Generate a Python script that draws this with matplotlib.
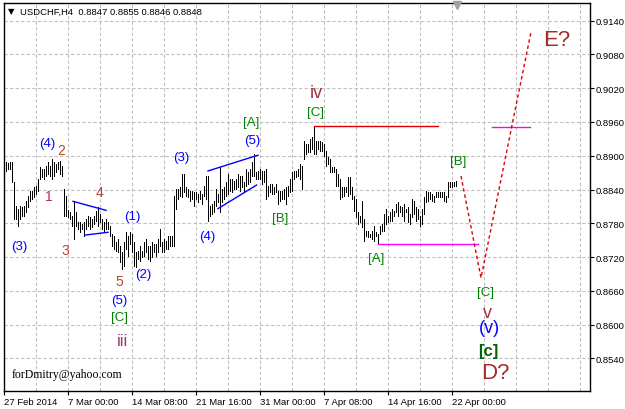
import numpy as np
import matplotlib.pyplot as plt

# USDCHF H4 bars (high / low), one per bar
highs = [
    0.8889, 0.8887, 0.8889, 0.8889, 0.8853, 0.8810, 0.8805, 0.8810, 0.8809, 0.8810,
    0.8819, 0.8828, 0.8837, 0.8837, 0.8844, 0.8846, 0.8858, 0.8880, 0.8876, 0.8876,
    0.8881, 0.8889, 0.8881, 0.8894, 0.8889, 0.8885, 0.8889, 0.8890, 0.8881, 0.8841,
    0.8828, 0.8803, 0.8800, 0.8793, 0.8819, 0.8800, 0.8782, 0.8782, 0.8778, 0.8782,
    0.8787, 0.8793, 0.8791, 0.8787, 0.8793, 0.8802, 0.8809, 0.8796, 0.8787, 0.8782,
    0.8787, 0.8782, 0.8775, 0.8761, 0.8757, 0.8746, 0.8752, 0.8739, 0.8729, 0.8746,
    0.8764, 0.8757, 0.8764, 0.8761, 0.8746, 0.8729, 0.8730, 0.8739, 0.8730, 0.8746,
    0.8752, 0.8739, 0.8739, 0.8746, 0.8743, 0.8743, 0.8752, 0.8770, 0.8746, 0.8752,
    0.8748, 0.8757, 0.8757, 0.8757, 0.8828, 0.8841, 0.8841, 0.8844, 0.8867, 0.8867,
    0.8844, 0.8841, 0.8837, 0.8837, 0.8835, 0.8835, 0.8832, 0.8837, 0.8832, 0.8846,
    0.8864, 0.8864, 0.8810, 0.8814, 0.8819, 0.8841, 0.8832, 0.8880, 0.8841, 0.8844,
    0.8853, 0.8867, 0.8858, 0.8858, 0.8855, 0.8858, 0.8867, 0.8864, 0.8864, 0.8853,
    0.8876, 0.8871, 0.8876, 0.8889, 0.8903, 0.8871, 0.8873, 0.8876, 0.8873, 0.8873,
    0.8876, 0.8846, 0.8850, 0.8850, 0.8844, 0.8850, 0.8837, 0.8837, 0.8837, 0.8841,
    0.8844, 0.8846, 0.8858, 0.8871, 0.8873, 0.8873, 0.8876, 0.8885, 0.8881, 0.8926,
    0.8921, 0.8921, 0.8929, 0.8933, 0.8953, 0.8926, 0.8926, 0.8926, 0.8924, 0.8921,
    0.8908, 0.8898, 0.8894, 0.8880, 0.8880, 0.8876, 0.8867, 0.8858, 0.8844, 0.8844,
    0.8844, 0.8862, 0.8862, 0.8844, 0.8828, 0.8823, 0.8800, 0.8793, 0.8819, 0.8787,
    0.8766, 0.8766, 0.8761, 0.8766, 0.8775, 0.8764, 0.8761, 0.8775, 0.8778, 0.8796,
    0.8805, 0.8793, 0.8800, 0.8805, 0.8802, 0.8814, 0.8818, 0.8810, 0.8809, 0.8814,
    0.8805, 0.8809, 0.8796, 0.8823, 0.8819, 0.8809, 0.8805, 0.8793, 0.8805, 0.8826,
    0.8837, 0.8835, 0.8835, 0.8832, 0.8828, 0.8835, 0.8835, 0.8835, 0.8835, 0.8835,
    0.8828, 0.8853, 0.8853, 0.8853, 0.8853, 0.8855,
]
lows = [
    0.8873, 0.8876, 0.8876, 0.8853, 0.8787, 0.8787, 0.8775, 0.8787, 0.8793, 0.8793,
    0.8800, 0.8809, 0.8819, 0.8823, 0.8826, 0.8832, 0.8837, 0.8858, 0.8862, 0.8858,
    0.8864, 0.8867, 0.8864, 0.8858, 0.8864, 0.8871, 0.8876, 0.8867, 0.8864, 0.8793,
    0.8793, 0.8791, 0.8787, 0.8775, 0.8752, 0.8775, 0.8770, 0.8764, 0.8770, 0.8757,
    0.8770, 0.8775, 0.8770, 0.8773, 0.8778, 0.8784, 0.8775, 0.8782, 0.8770, 0.8766,
    0.8770, 0.8770, 0.8757, 0.8739, 0.8734, 0.8730, 0.8729, 0.8711, 0.8698, 0.8704,
    0.8734, 0.8722, 0.8743, 0.8729, 0.8704, 0.8702, 0.8716, 0.8713, 0.8720, 0.8722,
    0.8729, 0.8716, 0.8713, 0.8720, 0.8729, 0.8722, 0.8729, 0.8739, 0.8729, 0.8729,
    0.8734, 0.8734, 0.8739, 0.8739, 0.8739, 0.8805, 0.8823, 0.8828, 0.8826, 0.8835,
    0.8828, 0.8826, 0.8819, 0.8823, 0.8810, 0.8823, 0.8818, 0.8823, 0.8814, 0.8828,
    0.8823, 0.8784, 0.8793, 0.8796, 0.8800, 0.8810, 0.8818, 0.8800, 0.8818, 0.8823,
    0.8828, 0.8832, 0.8837, 0.8835, 0.8841, 0.8841, 0.8844, 0.8837, 0.8844, 0.8837,
    0.8846, 0.8850, 0.8853, 0.8864, 0.8864, 0.8858, 0.8858, 0.8858, 0.8850, 0.8853,
    0.8823, 0.8828, 0.8835, 0.8832, 0.8832, 0.8835, 0.8814, 0.8819, 0.8823, 0.8823,
    0.8814, 0.8828, 0.8835, 0.8837, 0.8858, 0.8862, 0.8864, 0.8858, 0.8841, 0.8894,
    0.8903, 0.8906, 0.8906, 0.8912, 0.8903, 0.8903, 0.8912, 0.8908, 0.8908, 0.8899,
    0.8881, 0.8885, 0.8871, 0.8871, 0.8871, 0.8846, 0.8846, 0.8823, 0.8826, 0.8828,
    0.8835, 0.8828, 0.8832, 0.8823, 0.8802, 0.8791, 0.8778, 0.8782, 0.8773, 0.8748,
    0.8757, 0.8755, 0.8755, 0.8752, 0.8748, 0.8757, 0.8743, 0.8761, 0.8766, 0.8766,
    0.8778, 0.8782, 0.8784, 0.8784, 0.8793, 0.8800, 0.8793, 0.8800, 0.8793, 0.8784,
    0.8800, 0.8782, 0.8778, 0.8791, 0.8796, 0.8784, 0.8787, 0.8775, 0.8778, 0.8796,
    0.8818, 0.8819, 0.8823, 0.8819, 0.8818, 0.8826, 0.8826, 0.8826, 0.8826, 0.8819,
    0.8818, 0.8826, 0.8844, 0.8844, 0.8846, 0.8846,
]

# axis labels
price_ticks = [0.8540, 0.8600, 0.8660, 0.8720, 0.8780, 0.8840, 0.8900, 0.8960, 0.9020, 0.9080, 0.9140]
date_labels = ["27 Feb 2014", "7 Mar 00:00", "14 Mar 08:00", "21 Mar 16:00",
               "31 Mar 00:00", "7 Apr 08:00", "14 Apr 16:00", "22 Apr 00:00"]
date_bars = [-1, 31, 63, 95, 127, 159, 191, 223]

# drawn lines (bar index, price)
triangle_top = ([33.5, 50], [0.8819, 0.8803])
triangle_bot = ([39.5, 51], [0.8759, 0.8764])
wedge_top = ([101, 126], [0.8873, 0.8901])
wedge_bot = ([106, 125.3], [0.8806, 0.8848])
c_high = ([154, 216], [0.8953, 0.8953])
a_low = ([186, 236], [0.8743, 0.8743])
target = ([243, 262], [0.8952, 0.8952])
forecast_x = [227.5, 237.5, 262.5]
forecast_y = [0.8864, 0.8683, 0.9120]

# wave labels
wave_text = ["(3)", "(4)", "2", "1", "3", "4", "5", "(1)", "(2)", "(5)", "[C]", "iii",
             "(3)", "(4)", "(5)", "[A]", "[B]", "iv", "[C]", "[A]", "[B]", "[C]",
             "v", "(v)", "[c]", "D?", "E?"]
wave_bar = [6.5, 20.5, 27.5, 21.5, 29.5, 46.5, 56.5, 63, 68.5, 56.5, 57, 58,
            87.5, 100.5, 123, 122.5, 137, 155, 155, 185, 226, 239.5,
            240.5, 241.5, 241, 244.5, 275.5]
wave_price = [0.8739, 0.8922, 0.8910, 0.8828, 0.8732, 0.8835, 0.8677, 0.8793, 0.8690, 0.8643, 0.8613, 0.8572,
              0.8897, 0.8757, 0.8928, 0.8960, 0.8789, 0.9013, 0.8978, 0.8718, 0.8890, 0.8658,
              0.8622, 0.8594, 0.8553, 0.8515, 0.9107]


def label_style(t):
    if t.startswith("("):
        if t == "(v)":
            return dict(color="#0000ff", fontsize=13)
        return dict(color="#0000ff", fontsize=9.5)
    if t == "[c]":
        return dict(color="#006400", fontsize=12, fontweight="bold")
    if t.startswith("["):
        return dict(color="#008000", fontsize=9.5)
    if t in ("D?", "E?"):
        return dict(color="#a52a2a", fontsize=16)
    if t == "1":
        return dict(color="#c02860", fontsize=10)
    if t in ("2", "3", "4", "5"):
        return dict(color="#b5452b", fontsize=10)
    if t == "iii":
        return dict(color="#9b3b6b", fontsize=12)
    return dict(color="#a0303c", fontsize=13)


plt.rcParams['font.family'] = ['Liberation Sans', 'DejaVu Sans']

fig = plt.figure(figsize=(6.25, 4.1), dpi=100)
ax = fig.add_axes([4 / 625, 18 / 410, 586 / 625, 388 / 410])
ax.set_xlim(-1, 292)
ax.set_ylim(0.84819, 0.91715)

# grid
for p in price_ticks:
    ax.axhline(p, color="#c0c0c0", lw=0.8, ls=(0, (3, 2)), zorder=0)
for g in range(15, 292, 16):
    ax.axvline(g, color="#c0c0c0", lw=0.8, ls=(0, (3, 2)), zorder=0)

# bars
idx = np.arange(len(highs))
ax.vlines(idx, lows, highs, color="black", linewidth=0.72, antialiased=False, zorder=3)

# trend lines
for xs, ys in (triangle_top, triangle_bot, wedge_top, wedge_bot):
    ax.plot(xs, ys, color="#0000ff", lw=1.0, zorder=4)
ax.plot(*c_high, color="#e00000", lw=1.0, zorder=4)
ax.plot(*a_low, color="#ff00ff", lw=1.0, zorder=4)
ax.plot(*target, color="#ff00ff", lw=1.0, zorder=4)
ax.plot(forecast_x, forecast_y, color="#e00000", lw=1.0, ls=(0, (2.5, 2)), zorder=4)

for t, b, p in zip(wave_text, wave_bar, wave_price):
    ax.text(b, p, t, ha="center", va="center", zorder=5, **label_style(t))

# axes styling
ax.yaxis.tick_right()
ax.set_yticks(price_ticks)
ax.set_yticklabels(["%.4f" % p for p in price_ticks])
ax.set_xticks(date_bars)
ax.set_xticklabels(date_labels)
for lbl in ax.get_xticklabels():
    lbl.set_ha("left")
ax.tick_params(axis="both", direction="out", length=3, width=0.8, labelsize=6.8, pad=1, colors="black")
for s in ax.spines.values():
    s.set_color("black")
    s.set_linewidth(1.0)

# chart shift marker and header
ax.plot([225.5], [0.9168], marker="v", color="#a0a0a0", markersize=6, clip_on=False, zorder=6)
fig.text(8 / 625, 1 - 12 / 410, "\u25bc", fontsize=6, va="center", family="DejaVu Sans")
fig.text(20 / 625, 1 - 12 / 410, "USDCHF,H4  0.8847 0.8855 0.8846 0.8848", fontsize=6.8, va="center")
fig.text(12 / 625, 1 - 375 / 410, "forDmitry@yahoo.com", fontsize=8.5, va="center", family="Liberation Serif")

fig.savefig("out.png", dpi=100)
